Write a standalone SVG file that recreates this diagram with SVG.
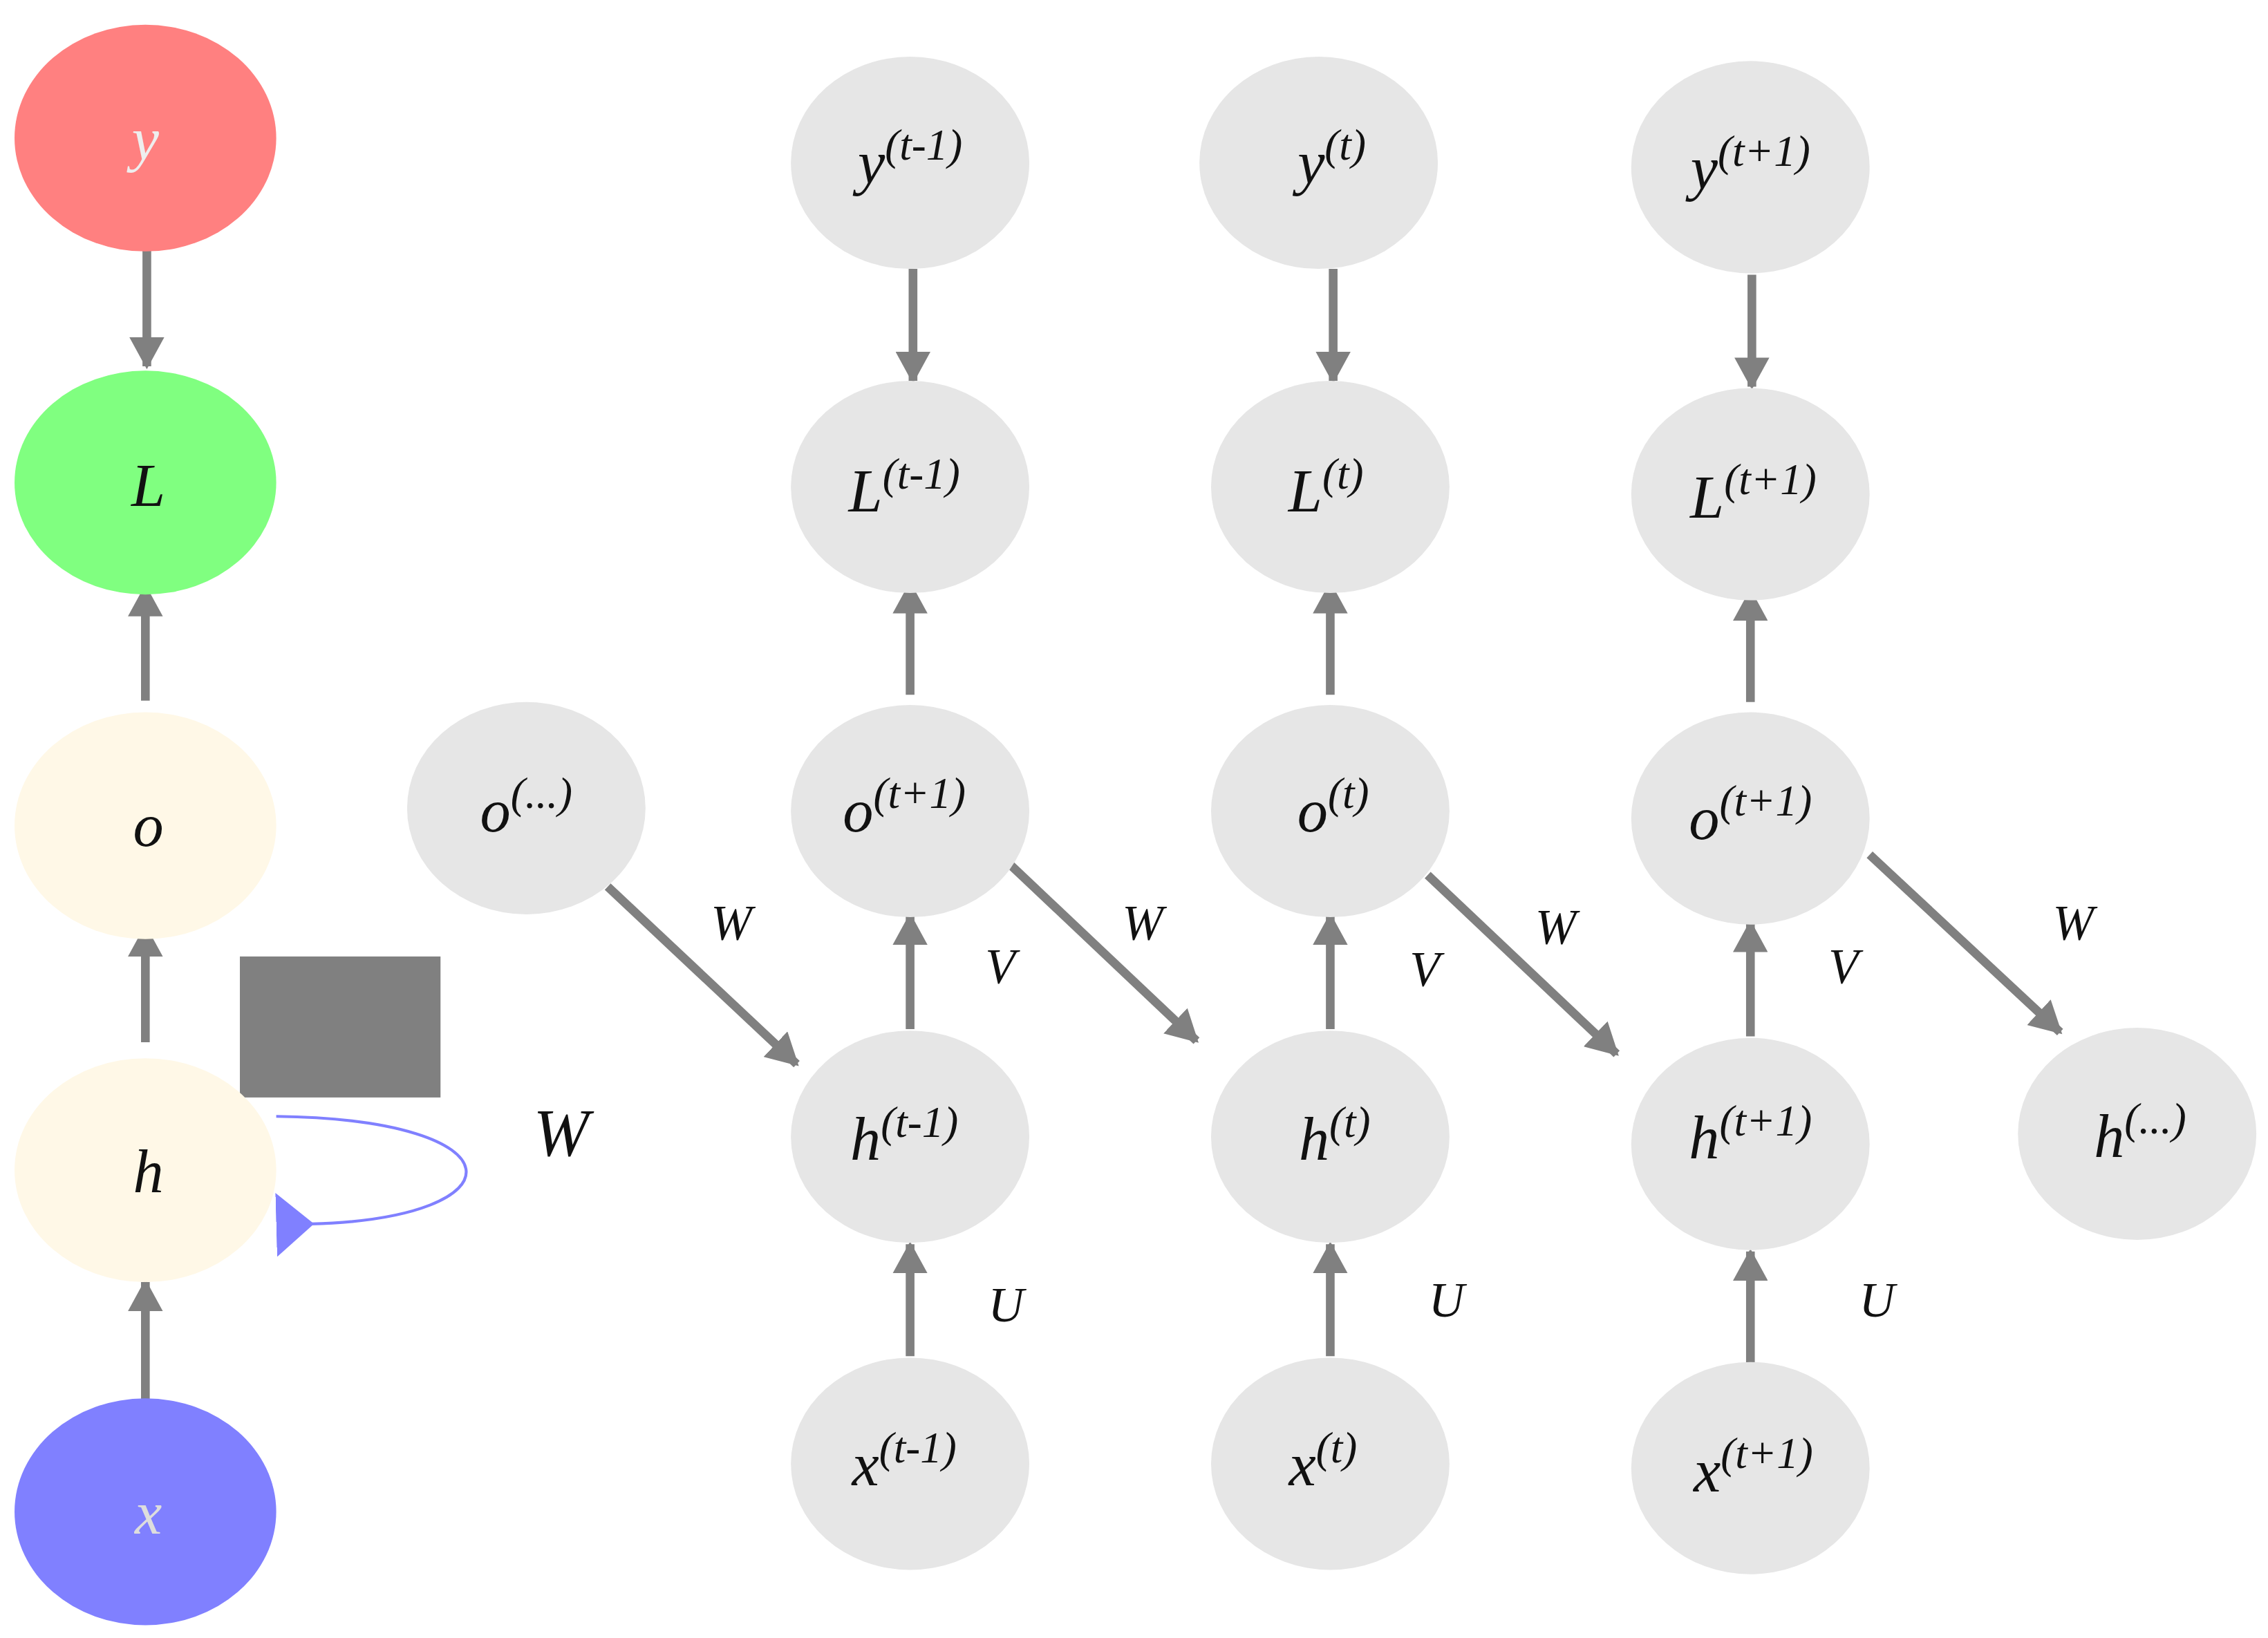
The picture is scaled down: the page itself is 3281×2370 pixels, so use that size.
<svg xmlns="http://www.w3.org/2000/svg" width="3281" height="2370" viewBox="0 0 3281 2370">
<style>
.g{fill:#E6E6E6}
.t{font-family:"Liberation Serif","DejaVu Serif",serif;font-style:italic;font-size:42px;fill:#111;text-anchor:middle}
.s{font-size:30px}
.lb{font-family:"Liberation Serif","DejaVu Serif",serif;font-style:italic;font-size:34px;fill:#111;text-anchor:middle}
.c{stroke:#808080;stroke-width:6;fill:none}
</style>
<defs>
<marker id="a" markerUnits="userSpaceOnUse" markerWidth="24" markerHeight="24" refX="20" refY="12" orient="auto"><path d="M0,0 L22,12 L0,24 Z" fill="#808080"/></marker>
<marker id="b" markerUnits="userSpaceOnUse" markerWidth="26" markerHeight="44" refX="2" refY="22" orient="auto"><path d="M26,0 L0,22 L26,44 Z" fill="#8080FF"/></marker>
</defs>
<rect width="3281" height="2370" fill="#fff"/>
<g transform="scale(2.1032)">
<g id="connectors">
<line class="c" x1="101" y1="172" x2="101" y2="252" marker-end="url(#a)"/>
<line class="c" x1="100" y1="482" x2="100" y2="404" marker-end="url(#a)"/>
<line class="c" x1="100" y1="717" x2="100" y2="638" marker-end="url(#a)"/>
<line class="c" x1="100" y1="963" x2="100" y2="882" marker-end="url(#a)"/>
<path d="M190,768 C360,770 360,838 214,842" stroke="#8080FF" stroke-width="2" fill="none" marker-end="url(#b)"/>
<line class="c" x1="628" y1="185" x2="628" y2="262" marker-end="url(#a)"/>
<line class="c" x1="917" y1="185" x2="917" y2="262" marker-end="url(#a)"/>
<line class="c" x1="1205" y1="189" x2="1205" y2="266" marker-end="url(#a)"/>
<line class="c" x1="626" y1="478" x2="626" y2="402" marker-end="url(#a)"/>
<line class="c" x1="915" y1="478" x2="915" y2="402" marker-end="url(#a)"/>
<line class="c" x1="1204" y1="483" x2="1204" y2="407" marker-end="url(#a)"/>
<line class="c" x1="626" y1="708" x2="626" y2="630" marker-end="url(#a)"/>
<line class="c" x1="915" y1="708" x2="915" y2="630" marker-end="url(#a)"/>
<line class="c" x1="1204" y1="713" x2="1204" y2="635" marker-end="url(#a)"/>
<line class="c" x1="626" y1="933" x2="626" y2="856" marker-end="url(#a)"/>
<line class="c" x1="915" y1="933" x2="915" y2="856" marker-end="url(#a)"/>
<line class="c" x1="1204" y1="938" x2="1204" y2="861" marker-end="url(#a)"/>
<line class="c" x1="418" y1="610" x2="548" y2="732" marker-end="url(#a)"/>
<line class="c" x1="694" y1="594" x2="823" y2="716" marker-end="url(#a)"/>
<line class="c" x1="982" y1="602" x2="1112" y2="725" marker-end="url(#a)"/>
<line class="c" x1="1286" y1="588" x2="1417" y2="710" marker-end="url(#a)"/>
</g>
<g id="labels">
<text class="t" x="386" y="795" style="font-size:46px">W</text>
<text class="lb" x="503" y="646">W</text><text class="lb" x="786" y="646">W</text><text class="lb" x="1070" y="649">W</text><text class="lb" x="1426" y="646">W</text>
<text class="lb" x="688" y="676">V</text><text class="lb" x="980" y="678">V</text><text class="lb" x="1268" y="676">V</text>
<text class="lb" x="692" y="909">U</text><text class="lb" x="995" y="906">U</text><text class="lb" x="1291" y="906">U</text>
</g>
<rect x="165" y="658" width="138" height="97" fill="#808080"/>
<g id="y"><ellipse cx="100" cy="95" rx="90" ry="78" fill="#FF8080"/><text class="t" x="100" y="110" fill="#eee" style="fill:#eee">y</text></g>
<g id="L"><ellipse cx="100" cy="332" rx="90" ry="77" fill="#80FF80"/><text class="t" x="102" y="348">L</text></g>
<g id="o"><ellipse cx="100" cy="568" rx="90" ry="78" fill="#FFF8E7"/><text class="t" x="102" y="582">o</text></g>
<g id="h"><ellipse cx="100" cy="805" rx="90" ry="77" fill="#FFF8E7"/><text class="t" x="102" y="820">h</text></g>
<g id="x"><ellipse cx="100" cy="1040" rx="90" ry="78" fill="#8080FF"/><text class="t" x="102" y="1055" style="fill:#ddd">x</text></g>
<g id="o_dots"><ellipse class="g" cx="362" cy="556" rx="82" ry="73"/><text class="t" x="362" y="572">o<tspan class="s" dy="-16">(...)</tspan></text></g>
<g id="y1"><ellipse class="g" cx="626" cy="112" rx="82" ry="73"/><text class="t" x="626" y="126">y<tspan class="s" dy="-16">(t-1)</tspan></text></g>
<g id="L1"><ellipse class="g" cx="626" cy="335" rx="82" ry="73"/><text class="t" x="622" y="352">L<tspan class="s" dy="-16">(t-1)</tspan></text></g>
<g id="o1"><ellipse class="g" cx="626" cy="558" rx="82" ry="73"/><text class="t" x="622" y="572">o<tspan class="s" dy="-16">(t+1)</tspan></text></g>
<g id="h1"><ellipse class="g" cx="626" cy="782" rx="82" ry="73"/><text class="t" x="622" y="798">h<tspan class="s" dy="-16">(t-1)</tspan></text></g>
<g id="x1"><ellipse class="g" cx="626" cy="1007" rx="82" ry="73"/><text class="t" x="622" y="1022">x<tspan class="s" dy="-16">(t-1)</tspan></text></g>
<g id="y2"><ellipse class="g" cx="907" cy="112" rx="82" ry="73"/><text class="t" x="916" y="126">y<tspan class="s" dy="-16">(t)</tspan></text></g>
<g id="L2"><ellipse class="g" cx="915" cy="335" rx="82" ry="73"/><text class="t" x="912" y="352">L<tspan class="s" dy="-16">(t)</tspan></text></g>
<g id="o2"><ellipse class="g" cx="915" cy="558" rx="82" ry="73"/><text class="t" x="917" y="572">o<tspan class="s" dy="-16">(t)</tspan></text></g>
<g id="h2"><ellipse class="g" cx="915" cy="782" rx="82" ry="73"/><text class="t" x="918" y="798">h<tspan class="s" dy="-16">(t)</tspan></text></g>
<g id="x2"><ellipse class="g" cx="915" cy="1007" rx="82" ry="73"/><text class="t" x="910" y="1022">x<tspan class="s" dy="-16">(t)</tspan></text></g>
<g id="y3"><ellipse class="g" cx="1204" cy="115" rx="82" ry="73"/><text class="t" x="1204" y="130">y<tspan class="s" dy="-16">(t+1)</tspan></text></g>
<g id="L3"><ellipse class="g" cx="1204" cy="340" rx="82" ry="73"/><text class="t" x="1206" y="356">L<tspan class="s" dy="-16">(t+1)</tspan></text></g>
<g id="o3"><ellipse class="g" cx="1204" cy="563" rx="82" ry="73"/><text class="t" x="1204" y="577">o<tspan class="s" dy="-16">(t+1)</tspan></text></g>
<g id="h3"><ellipse class="g" cx="1204" cy="787" rx="82" ry="73"/><text class="t" x="1204" y="797">h<tspan class="s" dy="-16">(t+1)</tspan></text></g>
<g id="x3"><ellipse class="g" cx="1204" cy="1010" rx="82" ry="73"/><text class="t" x="1206" y="1026">x<tspan class="s" dy="-16">(t+1)</tspan></text></g>
<g id="h_dots"><ellipse class="g" cx="1470" cy="780" rx="82" ry="73"/><text class="t" x="1472" y="796">h<tspan class="s" dy="-16">(...)</tspan></text></g>
</g>
</svg>
